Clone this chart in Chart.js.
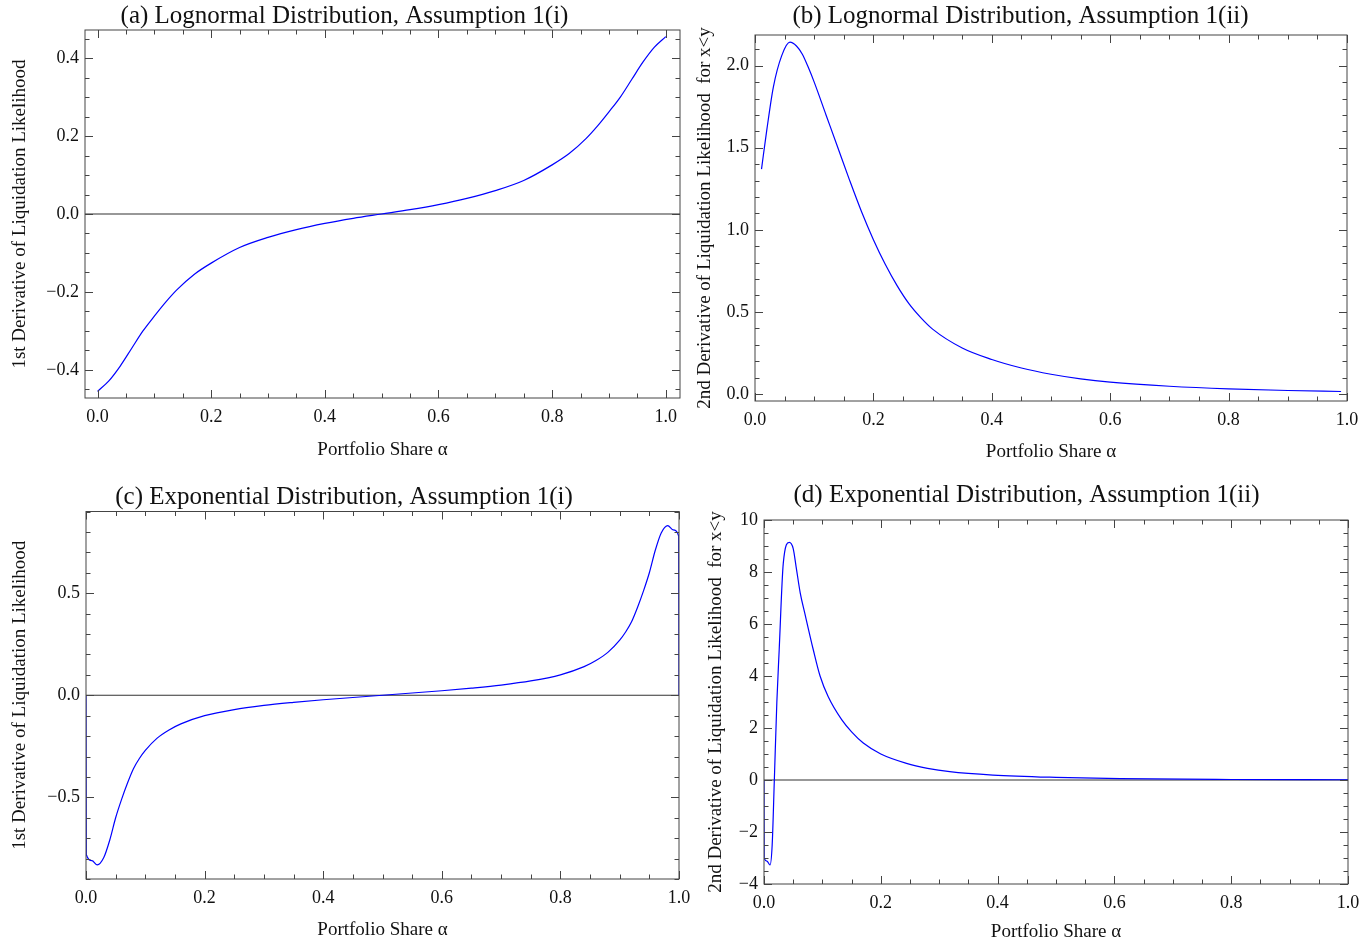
<!DOCTYPE html>
<html>
<head>
<meta charset="utf-8">
<script src="https://cdn.jsdelivr.net/npm/chart.js@4.4.1/dist/chart.umd.min.js"></script>
<style>
  body { margin: 0; background: #fff; }
  #wrap { position: relative; width: 1368px; height: 948px; overflow: hidden; }
  canvas { position: absolute; }
</style>
</head>
<body>
<div id="wrap">
  <canvas id="chart_a" width="690" height="470" style="left:0;top:0"></canvas>
  <canvas id="chart_b" width="678" height="470" style="left:690px;top:0"></canvas>
  <canvas id="chart_c" width="700" height="478" style="left:0;top:470px"></canvas>
  <canvas id="chart_d" width="678" height="478" style="left:690px;top:470px"></canvas>
</div>
<script>
// (a) lognormal, 1st derivative
const alpha_a = [0, 0.02, 0.04, 0.06, 0.08, 0.1, 0.12, 0.14, 0.17, 0.2, 0.25, 0.3, 0.35, 0.4, 0.45, 0.5, 0.55, 0.6, 0.65, 0.7, 0.75, 0.8, 0.83, 0.86, 0.88, 0.9, 0.92, 0.94, 0.96, 0.98, 1.0];
const deriv_a = [-0.455, -0.428, -0.39, -0.345, -0.30, -0.262, -0.226, -0.194, -0.155, -0.126, -0.086, -0.06, -0.04, -0.024, -0.011, 0, 0.011, 0.024, 0.04, 0.06, 0.086, 0.126, 0.155, 0.194, 0.226, 0.262, 0.30, 0.345, 0.39, 0.428, 0.455];

// (b) lognormal, 2nd derivative
const alpha_b = [0.011, 0.02, 0.031, 0.045, 0.059, 0.07, 0.08, 0.09, 0.1, 0.12, 0.14, 0.16, 0.18, 0.2, 0.22, 0.24, 0.26, 0.28, 0.3, 0.35, 0.4, 0.45, 0.5, 0.55, 0.6, 0.7, 0.8, 0.9, 0.99];
const deriv_b = [1.37, 1.61, 1.87, 2.06, 2.143, 2.12, 2.07, 1.99, 1.90, 1.70, 1.50, 1.30, 1.11, 0.94, 0.79, 0.66, 0.55, 0.465, 0.395, 0.28, 0.21, 0.158, 0.12, 0.092, 0.072, 0.047, 0.031, 0.021, 0.015];

// (c) exponential, 1st derivative
const alpha_c = [0, 0.0005, 0.01, 0.019, 0.03, 0.04, 0.05, 0.06, 0.07, 0.08, 0.09, 0.1, 0.12, 0.14, 0.16, 0.2, 0.25, 0.3, 0.35, 0.4, 0.45, 0.5, 0.55, 0.6, 0.65, 0.7, 0.75, 0.8, 0.84, 0.86, 0.88, 0.9, 0.91, 0.92, 0.93, 0.94, 0.95, 0.96, 0.97, 0.981, 0.99, 0.9995, 1];
const deriv_c = [0, -0.78, -0.81, -0.831, -0.795, -0.71, -0.60, -0.51, -0.43, -0.36, -0.31, -0.27, -0.21, -0.17, -0.14, -0.10, -0.07, -0.05, -0.035, -0.022, -0.011, 0, 0.011, 0.022, 0.035, 0.05, 0.07, 0.10, 0.14, 0.17, 0.21, 0.27, 0.31, 0.36, 0.43, 0.51, 0.60, 0.71, 0.795, 0.831, 0.81, 0.78, 0];

// (d) exponential, 2nd derivative
const alpha_d = [0, 0.0003, 0.005, 0.0103, 0.014, 0.0177, 0.022, 0.026, 0.033, 0.0433, 0.05, 0.055, 0.062, 0.07, 0.0845, 0.096, 0.11, 0.133, 0.15, 0.17, 0.2, 0.244, 0.28, 0.318, 0.392, 0.5, 0.61, 0.8, 1.0];
const deriv_d = [0, -3.0, -3.12, -3.27, -2.5, 0, 3.0, 5.0, 8.33, 9.14, 8.9, 8.2, 7.2, 6.4, 5.0, 4.0, 3.2, 2.32, 1.85, 1.42, 1.0, 0.64, 0.45, 0.32, 0.19, 0.10, 0.05, 0.02, 0.01];

// tick labels
const share_ticks = [0, 0.2, 0.4, 0.6, 0.8, 1.0];
const ticks_a = [-0.4, -0.2, 0, 0.2, 0.4];
const ticks_b = [0, 0.5, 1.0, 1.5, 2.0];
const ticks_c = [-0.5, 0, 0.5];
const ticks_d = [-4, -2, 0, 2, 4, 6, 8, 10];

const titles = [
  "(a) Lognormal Distribution, Assumption 1(i)",
  "(b) Lognormal Distribution, Assumption 1(ii)",
  "(c) Exponential Distribution, Assumption 1(i)",
  "(d) Exponential Distribution, Assumption 1(ii)"
];
const y_titles = [
  "1st Derivative of Liquidation Likelihood",
  "2nd Derivative of Liquidation Likelihood  for x<y"
];
const x_title = "Portfolio Share \u03b1";

const FONT = "'Liberation Serif', 'Times New Roman', serif";
const FRAME = "#444";

function fmt_num(v, digits) {
  let s = v.toFixed(digits);
  if (Math.abs(v) < 1e-9) s = (0).toFixed(digits);
  return s.replace("-", "\u2212");
}

// Mathematica-like frame with ticks pointing inward on all four sides
const frame_plugin = {
  id: "frameTicks",
  beforeDatasetsDraw(chart, args, opts) {
    if (!opts.zeroLine) return;
    const ctx = chart.ctx, area = chart.chartArea;
    const y0 = chart.scales.y.getPixelForValue(0);
    ctx.save();
    ctx.strokeStyle = "#333";
    ctx.lineWidth = 1.2;
    ctx.beginPath();
    ctx.moveTo(area.left, y0);
    ctx.lineTo(area.right, y0);
    ctx.stroke();
    ctx.restore();
  },
  afterDatasetsDraw(chart, args, opts) {
    const ctx = chart.ctx, area = chart.chartArea;
    const xs = chart.scales.x, ys = chart.scales.y;
    ctx.save();
    ctx.strokeStyle = FRAME;
    ctx.lineWidth = 1;
    ctx.strokeRect(area.left, area.top, area.right - area.left, area.bottom - area.top);

    function ticks_for(scale, step) {
      const out = [];
      const start = Math.ceil(scale.min / step - 1e-6);
      const end = Math.floor(scale.max / step + 1e-6);
      for (let i = start; i <= end; i++) out.push(i * step);
      return out;
    }
    const major_len = 8, minor_len = 4.5;
    ctx.beginPath();
    for (const v of ticks_for(xs, opts.minorX)) {
      const major = Math.abs(v / opts.majorX - Math.round(v / opts.majorX)) < 1e-6;
      const len = major ? major_len : minor_len;
      const px = Math.round(xs.getPixelForValue(v)) + 0.5;
      ctx.moveTo(px, area.bottom); ctx.lineTo(px, area.bottom - len);
      ctx.moveTo(px, area.top); ctx.lineTo(px, area.top + len);
    }
    for (const v of ticks_for(ys, opts.minorY)) {
      const major = Math.abs(v / opts.majorY - Math.round(v / opts.majorY)) < 1e-6;
      const len = major ? major_len : minor_len;
      const py = Math.round(ys.getPixelForValue(v)) + 0.5;
      ctx.moveTo(area.left, py); ctx.lineTo(area.left + len, py);
      ctx.moveTo(area.right, py); ctx.lineTo(area.right - len, py);
    }
    ctx.stroke();
    ctx.restore();
  }
};

function make_chart(canvas_id, cfg) {
  const points = cfg.xs.map((x, i) => ({ x: x, y: cfg.ys[i] }));
  return new Chart(document.getElementById(canvas_id), {
    type: "line",
    data: {
      datasets: [{
        data: points,
        borderColor: "#0000ff",
        borderWidth: 1.2,
        pointRadius: 0,
        fill: false,
        cubicInterpolationMode: "monotone"
      }]
    },
    options: {
      responsive: false,
      animation: false,
      devicePixelRatio: 1,
      layout: { padding: cfg.padding },
      plugins: {
        legend: { display: false },
        tooltip: { enabled: false },
        title: {
          display: true,
          text: cfg.title,
          color: "#111",
          font: { family: FONT, size: 25, weight: "normal", lineHeight: 1.0 },
          padding: cfg.titlePad
        },
        frameTicks: cfg.frame
      },
      scales: {
        x: {
          type: "linear",
          min: cfg.xRange[0],
          max: cfg.xRange[1],
          grid: { display: false, drawTicks: false },
          border: { display: false },
          afterBuildTicks: s => { s.ticks = share_ticks.map(v => ({ value: v })); },
          afterFit: s => { s.height = cfg.xHeight; s.paddingLeft = 0; s.paddingRight = 0; },
          ticks: {
            color: "#111",
            padding: 8,
            maxRotation: 0,
            autoSkip: false,
            font: { family: FONT, size: 18 },
            callback: v => fmt_num(v, 1)
          },
          title: {
            display: true,
            text: x_title,
            color: "#111",
            padding: 0,
            font: { family: FONT, size: 19, lineHeight: 1.2 }
          }
        },
        y: {
          type: "linear",
          min: cfg.yRange[0],
          max: cfg.yRange[1],
          grid: { display: false, drawTicks: false },
          border: { display: false },
          afterBuildTicks: s => { s.ticks = cfg.yTicks.map(v => ({ value: v })); },
          afterFit: s => { s.width = cfg.yWidth; s.paddingTop = 0; s.paddingBottom = 0; },
          ticks: {
            color: "#111",
            padding: 6,
            autoSkip: false,
            font: { family: FONT, size: 18 },
            callback: v => fmt_num(v, cfg.yDigits)
          },
          title: {
            display: true,
            text: cfg.yTitle,
            color: "#111",
            padding: 0,
            font: { family: FONT, size: 19, lineHeight: 1.2 }
          }
        }
      }
    },
    plugins: [frame_plugin]
  });
}

(() => {
  make_chart("chart_a", {
    xs: alpha_a, ys: deriv_a, title: titles[0], yTitle: y_titles[0],
    xRange: [-0.022, 1.025], yRange: [-0.472, 0.472], yTicks: ticks_a, yDigits: 1,
    padding: { left: 9, right: 10, top: 0, bottom: 9 }, titlePad: { top: 3.5, bottom: 1.5 },
    xHeight: 63, yWidth: 76,
    frame: { majorX: 0.2, minorX: 0.05, majorY: 0.2, minorY: 0.05, zeroLine: true }
  });
  make_chart("chart_b", {
    xs: alpha_b, ys: deriv_b, title: titles[1], yTitle: y_titles[1],
    xRange: [0, 1], yRange: [-0.043, 2.187], yTicks: ticks_b, yDigits: 1,
    padding: { left: 4, right: 21, top: 0, bottom: 7 }, titlePad: { top: 3.5, bottom: 6.5 },
    xHeight: 62, yWidth: 61,
    frame: { majorX: 0.2, minorX: 0.05, majorY: 0.5, minorY: 0.1, zeroLine: false }
  });
  make_chart("chart_c", {
    xs: alpha_c, ys: deriv_c, title: titles[2], yTitle: y_titles[0],
    xRange: [0, 1], yRange: [-0.9, 0.9], yTicks: ticks_c, yDigits: 1,
    padding: { left: 9, right: 21, top: 12, bottom: 7 }, titlePad: { top: 2.5, bottom: 2 },
    xHeight: 62, yWidth: 77,
    frame: { majorX: 0.2, minorX: 0.05, majorY: 0.5, minorY: 0.1, zeroLine: true }
  });
  make_chart("chart_d", {
    xs: alpha_d, ys: deriv_d, title: titles[3], yTitle: y_titles[1],
    xRange: [0, 1], yRange: [-4, 10], yTicks: ticks_d, yDigits: 0,
    padding: { left: 15, right: 20, top: 10, bottom: 5 }, titlePad: { top: 2.5, bottom: 12.5 },
    xHeight: 59, yWidth: 59,
    frame: { majorX: 0.2, minorX: 0.05, majorY: 2, minorY: 0.5, zeroLine: true }
  });
})()
</script>
</body>
</html>
